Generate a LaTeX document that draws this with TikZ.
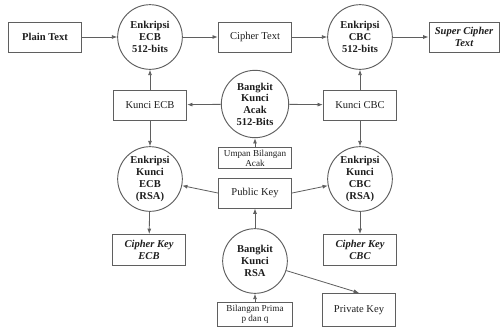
\documentclass[tikz,border=0pt]{standalone}
\usepackage{fontspec}
\setmainfont{Liberation Serif}
\usetikzlibrary{arrows.meta}
\definecolor{edge}{HTML}{5f5f5f}
\definecolor{txt}{HTML}{1e1e1e}

\begin{document}
\begin{tikzpicture}[x=0.03cm, y=-0.03cm, font=\fontsize{9}{10}\selectfont, text=txt,
  box/.style={draw=edge, line width=0.8pt, minimum width=2.2cm, minimum height=0.9cm, align=center, inner sep=1pt},
  bold/.style={font=\fontsize{9}{10}\selectfont\bfseries},
  bfit/.style={font=\fontsize{9}{10}\selectfont\bfseries\itshape},
  proc/.style={circle, draw=edge, line width=0.8pt, minimum size=1.94cm, align=center, inner sep=0pt, bold},
  small/.style={box, minimum height=0.63cm, font=\fontsize{7.8}{8.4}\selectfont},
  arr/.style={-{Latex[length=1.6mm, width=1.2mm]}, line width=0.7pt, edge}
]
  \useasboundingbox (0,0) rectangle (500,327);

  % top row
  \node[box, bold] (plain) at (45,37) {Plain Text};
  \node[proc] (encecb) at (150,37) {Enkripsi\\ECB\\512-bits};
  \node[box] (cipher) at (255,37) {Cipher Text};
  \node[proc] (enccbc) at (360,37) {Enkripsi\\CBC\\512-bits};
  \node[box, bfit, minimum width=2.1cm] (super) at (464,37) {Super Cipher\\Text};

  % keys
  \node[box] (kecb) at (150,105) {Kunci ECB};
  \node[proc, minimum size=2.02cm] (acak) at (255,104) {Bangkit\\Kunci\\Acak\\512-Bits};
  \node[box] (kcbc) at (360,105) {Kunci CBC};
  \node[small] (umpan) at (255,158) {Umpan Bilangan\\Acak};

  % RSA part
  \node[proc] (ekecb) at (150,179) {Enkripsi\\Kunci\\ECB\\(RSA)};
  \node[box] (pub) at (255,193) {Public Key};
  \node[proc] (ekcbc) at (360,179) {Enkripsi\\Kunci\\CBC\\(RSA)};
  \node[box, bfit, minimum height=0.93cm] (ckecb) at (149,250) {Cipher Key\\ECB};
  \node[proc] (rsa) at (255,261) {Bangkit\\Kunci\\RSA};
  \node[box, bfit, minimum height=0.93cm] (ckcbc) at (360,250) {Cipher Key\\CBC};
  \node[small, minimum width=2.25cm, minimum height=0.72cm] (prima) at (255,314) {Bilangan Prima\\p dan q};
  \node[box, minimum height=1cm] (priv) at (359,310) {Private Key};

  \draw[arr] (plain) -- (encecb);
  \draw[arr] (encecb) -- (cipher);
  \draw[arr] (cipher) -- (enccbc);
  \draw[arr] (enccbc) -- (super);
  \draw[arr] (kecb) -- (encecb);
  \draw[arr] (kcbc) -- (enccbc);
  \draw[arr] (acak) -- (kecb);
  \draw[arr] (acak) -- (kcbc);
  \draw[arr] (umpan) -- (acak);
  \draw[arr] (kecb) -- (ekecb);
  \draw[arr] (kcbc) -- (ekcbc);
  \draw[arr] (pub.west) -- (ekecb);
  \draw[arr] (pub.east) -- (ekcbc);
  \draw[arr] (ekecb) -- (ckecb);
  \draw[arr] (ekcbc) -- (ckcbc);
  \draw[arr] (rsa) -- (pub);
  \draw[arr] (prima) -- (rsa);
  \draw[arr] (rsa) -- (priv.north);
\end{tikzpicture}
\end{document}
